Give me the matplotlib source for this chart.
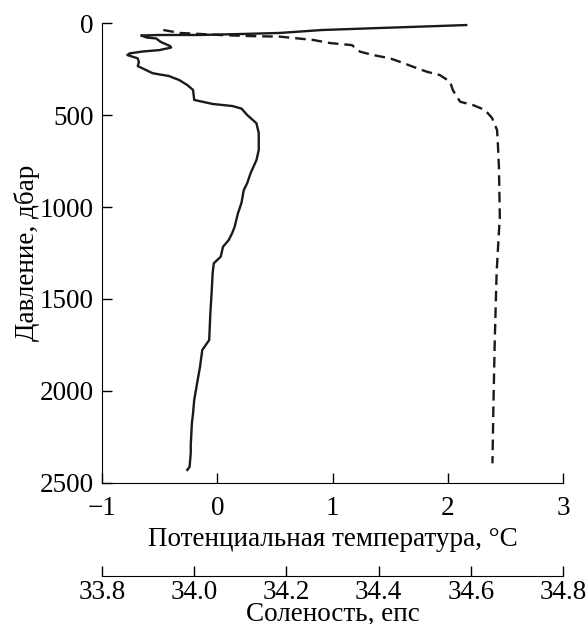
import numpy as np
import matplotlib.pyplot as plt

plt.rcParams['font.family'] = ['Liberation Serif', 'DejaVu Serif']

# potential temperature profile (solid line)
temp = [2.16, 1.93, 1.41, 0.91, 0.54, 0.19, -0.16, -0.50, -0.66, -0.61, -0.53, -0.49,
        -0.41, -0.40, -0.50, -0.65, -0.76, -0.78, -0.69, -0.68, -0.69, -0.62, -0.56,
        -0.42, -0.33, -0.26, -0.21, -0.20, -0.04, 0.13, 0.21, 0.26, 0.34, 0.36, 0.36,
        0.34, 0.29, 0.26, 0.23, 0.21, 0.18, 0.15, 0.13, 0.10, 0.05, 0.03, -0.03, -0.04,
        -0.05, -0.06, -0.07, -0.13, -0.15, -0.17, -0.20, -0.21, -0.22, -0.23, -0.23,
        -0.24, -0.26]
temp_pres = [11, 16, 27, 38, 54, 60, 65, 65, 68, 79, 84, 103,
             125, 133, 147, 155, 165, 174, 192, 212, 234, 255, 273,
             288, 310, 337, 364, 418, 440, 451, 465, 500, 545, 598, 690,
             745, 815, 870, 908, 978, 1033, 1109, 1141, 1179, 1216, 1270, 1306, 1359,
             1478, 1576, 1723, 1777, 1870, 1940, 2049, 2120, 2174, 2294, 2337,
             2412, 2429]

# salinity profile (dashed line)
sal = [33.933, 33.969, 34.056, 34.121, 34.186, 34.258, 34.295, 34.342, 34.360, 34.388,
       34.425, 34.453, 34.475, 34.505, 34.533, 34.555, 34.561, 34.570, 34.577, 34.605,
       34.631, 34.646, 34.657, 34.659, 34.661, 34.662, 34.663, 34.660, 34.656, 34.652,
       34.649, 34.647]
sal_pres = [38, 54, 65, 71, 74, 92, 109, 120, 156, 174,
            192, 217, 238, 265, 283, 319, 364, 401, 428, 446,
            473, 516, 582, 672, 781, 924, 1053, 1179, 1359, 1723,
            2085, 2393]

fs = 19.5

fig = plt.figure(figsize=(5.87, 6.24), dpi=100)
ax = fig.add_axes([0.1738, 0.2260, 0.7853, 0.7371])

ax.plot(temp, temp_pres, color='#1a1a1a', lw=1.7)
ax.set_xlim(-1, 3)
ax.set_ylim(2500, 0)
ax.set_xticks([-1, 0, 1, 2, 3])
ax.set_yticks([0, 500, 1000, 1500, 2000, 2500])
ax.spines['top'].set_visible(False)
ax.spines['right'].set_visible(False)
ax.tick_params(direction='in', length=7, width=1, labelsize=fs)
ax.tick_params(axis='x', pad=9.5)
ax.tick_params(axis='y', pad=6)
ax.set_xlabel('Потенциальная температура, °C', fontsize=fs, labelpad=4.5)
ax.set_ylabel('Давление, дбар', fontsize=fs, labelpad=0)

ax2 = ax.twiny()
ax2.plot(sal, sal_pres, color='#1a1a1a', lw=1.7, dashes=(4.5, 2.5))
ax2.set_xlim(33.8, 34.8)
ax2.set_xticks([33.8, 34.0, 34.2, 34.4, 34.6, 34.8])
ax2.set_xticklabels(['33.8', '34.0', '34.2', '34.4', '34.6', '34.8'])
ax2.xaxis.set_ticks_position('bottom')
ax2.xaxis.set_label_position('bottom')
ax2.spines['bottom'].set_position(('axes', -0.202))
for s in ['top', 'right', 'left']:
    ax2.spines[s].set_visible(False)
ax2.tick_params(direction='in', length=7, width=1, labelsize=fs, pad=2.8)
ax2.set_xlabel('Соленость, епс', fontsize=fs, labelpad=-2.2)
ax2.set_ylim(2500, 0)

fig.savefig('out.png', dpi=100)
